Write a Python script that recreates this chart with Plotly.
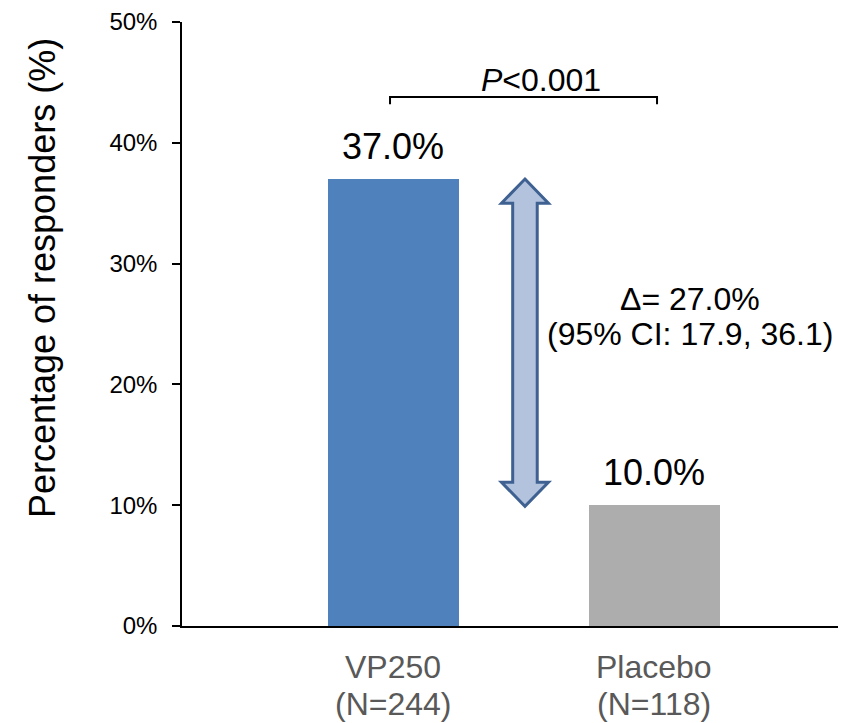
import plotly.graph_objects as go

# ---- data ----
categories = ["VP250", "Placebo"]
n_labels = ["(N=244)", "(N=118)"]
responders = [37.0, 10.0]
bar_colors = ["#4F81BD", "#ADADAD"]
y_tickvals = [0, 10, 20, 30, 40, 50]
y_ticktext = ["0%", "10%", "20%", "30%", "40%", "50%"]
delta_text = "\u0394= 27.0%"
ci_text = "(95% CI: 17.9, 36.1)"
p_text = "<i>P</i><0.001"

xpos = list(range(len(categories)))

fig = go.Figure()
fig.add_trace(go.Bar(
    x=xpos, y=responders, width=0.502,
    marker=dict(color=bar_colors, line=dict(width=0)),
    hoverinfo="skip", showlegend=False,
))

annotations = []
# value labels above bars
for xi, v in zip(xpos, responders):
    annotations.append(dict(
        x=xi, y=v + 2.7, xref="x", yref="y", text=f"{v:.1f}%",
        showarrow=False, xanchor="center", yanchor="middle",
        font=dict(family="Liberation Sans, Arial", size=36, color="#000000"),
    ))
# category labels
for xi, c, n in zip(xpos, categories, n_labels):
    annotations.append(dict(
        x=xi, y=-0.068, xref="x", yref="paper", text=c, showarrow=False,
        xanchor="center", yanchor="middle",
        font=dict(family="Liberation Sans, Arial", size=32, color="#595959"),
    ))
    annotations.append(dict(
        x=xi, y=-0.129, xref="x", yref="paper", text=n, showarrow=False,
        xanchor="center", yanchor="middle",
        font=dict(family="Liberation Sans, Arial", size=32, color="#595959"),
    ))
# y-axis title
annotations.append(dict(
    x=0, xref="paper", xshift=-140, y=0.576, yref="paper",
    text="Percentage of responders (%)", textangle=-90, showarrow=False,
    xanchor="center", yanchor="middle",
    font=dict(family="Liberation Sans, Arial", size=36, color="#000000"),
))
# delta text
mid = (xpos[0] + xpos[1]) / 2
annotations.append(dict(
    x=1.136, y=27.1, xref="x", yref="y", text=delta_text, showarrow=False,
    xanchor="center", yanchor="middle",
    font=dict(family="Liberation Sans, Arial", size=32, color="#000000"),
))
annotations.append(dict(
    x=1.136, y=24.2, xref="x", yref="y", text=ci_text, showarrow=False,
    xanchor="center", yanchor="middle",
    font=dict(family="Liberation Sans, Arial", size=32, color="#000000"),
))
# p-value
annotations.append(dict(
    x=0.567, y=45.2, xref="x", yref="y", text=p_text, showarrow=False,
    xanchor="center", yanchor="middle",
    font=dict(family="Liberation Sans, Arial", size=32, color="#000000"),
))

shapes = []
# bracket
by, bdrop = 43.8, 0.6
x0b, x1b = xpos[0] - 0.013, xpos[1] + 0.01
shapes.append(dict(
    type="path", xref="x", yref="y",
    path=f"M {x0b} {by-bdrop} L {x0b} {by} L {x1b} {by} L {x1b} {by-bdrop}",
    line=dict(color="#000000", width=2),
))
# double-headed block arrow
ax = mid + 0.004
hw, sw, hh = 0.090, 0.047, 2.0
top, bot = responders[0], responders[1] - 0.1
p = (f"M {ax} {top} L {ax+hw} {top-hh} L {ax+sw} {top-hh} L {ax+sw} {bot+hh} "
     f"L {ax+hw} {bot+hh} L {ax} {bot} L {ax-hw} {bot+hh} L {ax-sw} {bot+hh} "
     f"L {ax-sw} {top-hh} L {ax-hw} {top-hh} Z")
shapes.append(dict(
    type="path", xref="x", yref="y", path=p,
    fillcolor="#B3C3DE", line=dict(color="#3E6191", width=3),
))

fig.update_layout(
    width=846, height=723,
    margin=dict(l=174, r=8, t=14, b=105),
    paper_bgcolor="white", plot_bgcolor="white",
    annotations=annotations, shapes=shapes,
    bargap=0,
    xaxis=dict(
        range=[-0.81, 1.734], showgrid=False, zeroline=False,
        showline=True, linecolor="#000000", linewidth=2,
        showticklabels=False, ticks="", fixedrange=True, automargin=False,
    ),
    yaxis=dict(
        range=[0, 50], tickvals=y_tickvals, ticktext=y_ticktext,
        showgrid=False, zeroline=False, showline=True,
        linecolor="#000000", linewidth=1.5, automargin=False,
        ticks="outside", ticklen=8, tickwidth=1.5, tickcolor="#000000",
        tickfont=dict(family="Liberation Sans, Arial", size=24, color="#000000"),
        ticklabelstandoff=10, ticklabeloverflow="allow",
    ),
)

fig.write_html("out.html")
